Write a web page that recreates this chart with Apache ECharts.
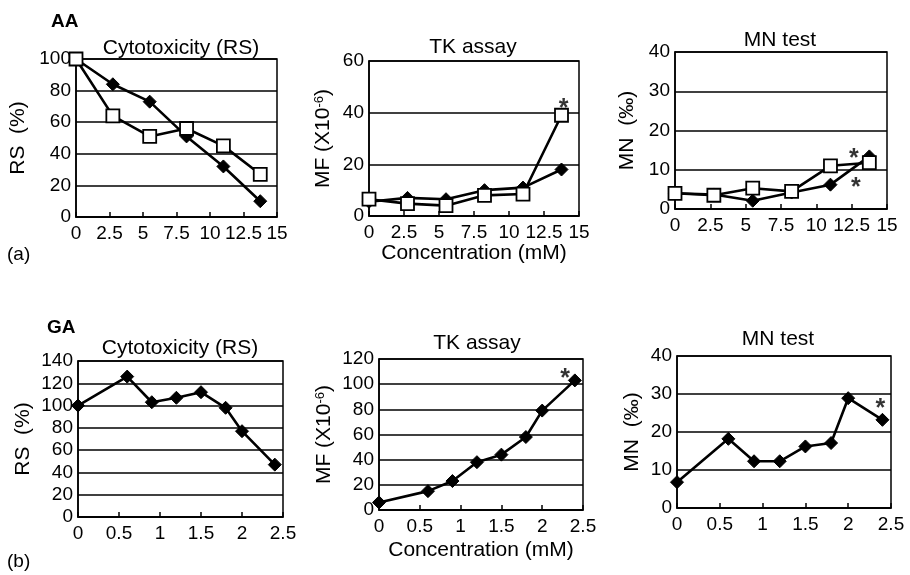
<!DOCTYPE html>
<html><head><meta charset="utf-8">
<script src="https://cdn.jsdelivr.net/npm/echarts@6/dist/echarts.min.js"></script>
<style>html,body{margin:0;padding:0;background:#fff}#c{width:910px;height:575px}</style>
</head><body><div id="c"></div>
<script>
// ---- data ----
const aaConc = [0, 2.75, 5.5, 8.25, 11, 13.75];
const aaRsDiamond = [100, 84, 73, 51, 32, 10];
const aaRsSquare = [100, 64, 51, 56, 45, 27];
const aaMfDiamond = [5.5, 7, 6.5, 10, 11, 18];
const aaMfSquare = [6.5, 4.8, 4, 8, 8.5, 39];
const aaMnDiamond = [4, 3.7, 2.1, 4.2, 6.2, 13.4];
const aaMnSquare = [4, 3.5, 5.3, 4.5, 11, 11.8];
const gaConc = [0, 0.6, 0.9, 1.2, 1.5, 1.8, 2.0, 2.4];
const gaRs = [100, 126, 103, 107, 112, 98, 77, 47];
const gaMf = [6, 15, 23, 38, 44, 58, 79, 103];
const gaMn = [6.8, 18.2, 12.3, 12.3, 16.2, 17.1, 28.9, 23.2];
// significance marks (data coordinates)
const aaMfStars = [[13.9, 43.6]];
const aaMnStars = [[12.65, 14.3], [12.8, 6.8]];
const gaMfStars = [[2.28, 108.5]];
const gaMnStars = [[2.375, 27.5]];
// tick values
const aaXTicks = [0, 2.5, 5, 7.5, 10, 12.5, 15];
const gaXTicks = [0, 0.5, 1, 1.5, 2, 2.5];
const rsAaTicks = [0, 20, 40, 60, 80, 100];
const mfAaTicks = [0, 20, 40, 60];
const mnTicks = [0, 10, 20, 30, 40];
const rsGaTicks = [0, 20, 40, 60, 80, 100, 120, 140];
const mfGaTicks = [0, 20, 40, 60, 80, 100, 120];

const FONT = '"Liberation Sans", Arial, Helvetica, sans-serif';
const grids = [
  {left: 76, top: 59, width: 201, height: 158},
  {left: 369, top: 61, width: 210, height: 155},
  {left: 675, top: 52, width: 212, height: 157},
  {left: 78, top: 361, width: 205, height: 156},
  {left: 379, top: 359, width: 204, height: 151},
  {left: 677, top: 356, width: 214, height: 152}
];
const panels = [
  {xt: aaXTicks, yt: rsAaTicks, yName: 'RS  (%)', yGap: 47},
  {xt: aaXTicks, yt: mfAaTicks, yName: 'MF (X10{s|-6})', yGap: 35, xName: 'Concentration (mM)', xGap: 26},
  {xt: aaXTicks, yt: mnTicks, yName: 'MN  (‰)', yGap: 37},
  {xt: gaXTicks, yt: rsGaTicks, yName: 'RS  (%)', yGap: 44},
  {xt: gaXTicks, yt: mfGaTicks, yName: 'MF (X10{s|-6})', yGap: 44, xName: 'Concentration (mM)', xGap: 30},
  {xt: gaXTicks, yt: mnTicks, yName: 'MN  (‰)', yGap: 34}
];

const grid = grids.map(g => Object.assign({show: true, borderColor: '#000', borderWidth: 1.5, backgroundColor: '#fff', containLabel: false}, g));
const xAxis = panels.map((p, i) => ({
  type: 'value', gridIndex: i,
  min: p.xt[0], max: p.xt[p.xt.length - 1], interval: p.xt[1] - p.xt[0],
  axisLine: {show: true, lineStyle: {color: '#000', width: 1.5}},
  axisTick: {show: true, inside: true, length: 5, lineStyle: {color: '#000', width: 1.5}},
  axisLabel: {color: '#000', fontSize: 19, fontFamily: FONT, margin: 7, hideOverlap: false, showMinLabel: true, showMaxLabel: true},
  splitLine: {show: false},
  name: p.xName || '', nameLocation: 'middle', nameGap: p.xGap || 0,
  nameTextStyle: {color: '#000', fontSize: 21, fontFamily: FONT, verticalAlign: 'top'}
}));
const yAxis = panels.map((p, i) => ({
  type: 'value', gridIndex: i,
  min: p.yt[0], max: p.yt[p.yt.length - 1], interval: p.yt[1] - p.yt[0],
  axisLine: {show: true, lineStyle: {color: '#000', width: 1.5}},
  axisTick: {show: false},
  axisLabel: {color: '#000', fontSize: 19, fontFamily: FONT, margin: 5},
  splitLine: {show: true, lineStyle: {color: '#000', width: 1.5}},
  name: p.yName, nameLocation: 'middle', nameGap: p.yGap, nameRotate: 90,
  nameTextStyle: {color: '#000', fontSize: 21, fontFamily: FONT,
    rich: {s: {fontSize: 13, fontFamily: FONT, color: '#000', verticalAlign: 'top', padding: [0, 0, 8, 0]}}}
}));

function pairs(xs, ys) { return xs.map((x, k) => [x, ys[k]]); }
function diamond(i, xs, ys) {
  return {type: 'line', xAxisIndex: i, yAxisIndex: i, data: pairs(xs, ys),
    symbol: 'diamond', symbolSize: 13, showAllSymbol: true,
    lineStyle: {color: '#000', width: 2.6}, itemStyle: {color: '#000', borderColor: '#000', borderWidth: 1},
    z: 3, animation: false};
}
function square(i, xs, ys) {
  return {type: 'line', xAxisIndex: i, yAxisIndex: i, data: pairs(xs, ys),
    symbol: 'rect', symbolSize: 13, showAllSymbol: true,
    lineStyle: {color: '#000', width: 2.6}, itemStyle: {color: '#fff', borderColor: '#000', borderWidth: 1.8},
    z: 4, animation: false};
}
function stars(i, pts) {
  return {type: 'scatter', xAxisIndex: i, yAxisIndex: i, data: pts, symbolSize: 1,
    itemStyle: {color: 'rgba(0,0,0,0)'}, z: 5, animation: false, silent: true,
    label: {show: true, position: 'inside', formatter: '*', color: '#000', fontSize: 25, fontWeight: 'bold', fontFamily: FONT, offset: [0, 6]}};
}

const series = [
  diamond(0, aaConc, aaRsDiamond), square(0, aaConc, aaRsSquare),
  diamond(1, aaConc, aaMfDiamond), square(1, aaConc, aaMfSquare), stars(1, aaMfStars),
  diamond(2, aaConc, aaMnDiamond), square(2, aaConc, aaMnSquare), stars(2, aaMnStars),
  diamond(3, gaConc, gaRs),
  diamond(4, gaConc, gaMf), stars(4, gaMfStars),
  diamond(5, gaConc, gaMn), stars(5, gaMnStars)
];

function txt(text, x, y, size, weight, align) {
  return {type: 'text', x: x, y: y, z: 10,
    style: {text: text, fill: '#000', font: (weight || 'normal') + ' ' + size + 'px ' + FONT,
      textAlign: align || 'center', textVerticalAlign: 'top'}};
}
const graphic = [
  txt('AA', 51, 12, 19, 'bold', 'left'),
  txt('(a)', 7, 245, 19, 'normal', 'left'),
  txt('GA', 47, 318, 19, 'bold', 'left'),
  txt('(b)', 7, 552, 19, 'normal', 'left'),
  txt('Cytotoxicity (RS)', 181, 38, 21),
  txt('TK assay', 473, 37, 21),
  txt('MN test', 780, 30, 21),
  txt('Cytotoxicity (RS)', 180, 338, 21),
  txt('TK assay', 477, 333, 21),
  txt('MN test', 778, 329, 21)
];

const chart = echarts.init(document.getElementById('c'), null, {renderer: 'canvas'});
chart.setOption({animation: false, backgroundColor: '#fff', grid, xAxis, yAxis, series, graphic});
</script></body></html>
